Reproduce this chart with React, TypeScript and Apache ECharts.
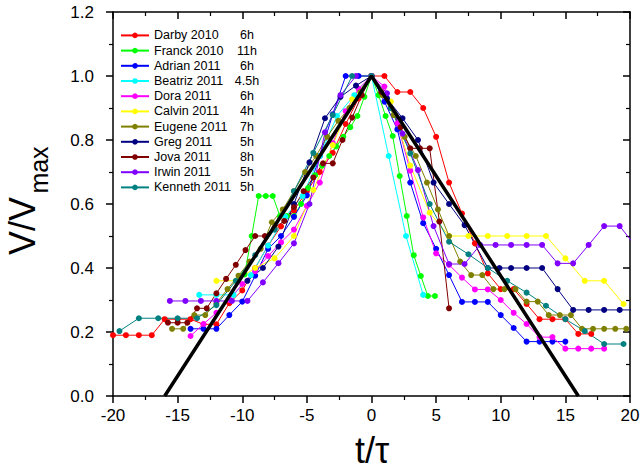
import React, { useEffect, useRef } from 'react';
import * as echarts from 'echarts';

const stormNames = ['Darby 2010', 'Franck 2010', 'Adrian 2011', 'Beatriz 2011', 'Dora 2011', 'Calvin 2011', 'Eugene 2011', 'Greg 2011', 'Jova 2011', 'Irwin 2011', 'Kenneth 2011'];
const stormHours = ['6h', '11h', '6h', '4.5h', '6h', '4h', '7h', '5h', '8h', '5h', '5h'];
const stormColors = ['#ff0000', '#00ff00', '#0000ff', '#00ffff', '#ff00ff', '#ffff00', '#808000', '#000080', '#800000', '#8000ff', '#008080'];

const darby: number[][] = [[-20,0.19],[-19,0.19],[-18,0.19],[-17,0.19],[-16,0.24],[-15,0.24],[-14,0.24],[-13,0.224],[-12,0.224],[-11,0.29],[-10,0.33],[-9,0.40],[-8,0.47],[-7,0.53],[-6,0.58],[-5,0.64],[-4,0.70],[-3,0.76],[-2,0.85],[-1,0.93],[0,1.0],[1,1.0],[2,0.95],[3,0.95],[4,0.90],[5,0.81],[6,0.667],[7,0.57],[8,0.477],[9,0.383],[10,0.334],[11,0.334],[12,0.2875],[13,0.24],[14,0.24],[15,0.24],[16,0.194],[17,0.194]];
const franck: number[][] = [[-9.82,0.38],[-9.27,0.50],[-8.73,0.625],[-8.18,0.625],[-7.64,0.625],[-7.09,0.5625],[-6.55,0.5625],[-6.0,0.5625],[-5.45,0.60],[-4.91,0.65],[-4.36,0.69],[-3.82,0.72],[-3.27,0.75],[-2.73,0.78],[-2.18,0.81],[-1.64,0.84],[-1.09,0.875],[-0.55,0.935],[0,1.0],[0.55,0.94],[1.09,0.875],[1.64,0.8125],[2.18,0.6875],[2.73,0.5625],[3.27,0.44],[3.82,0.375],[4.36,0.3125],[4.91,0.3125]];
const adrian: number[][] = [[-14,0.21],[-13,0.21],[-12,0.21],[-11,0.253],[-10,0.295],[-9,0.376],[-8,0.46],[-7,0.50],[-6,0.56],[-5,0.627],[-4,0.75],[-3,0.88],[-2,1.0],[-1,1.0],[0,1.0],[1,0.92],[2,0.833],[3,0.667],[4,0.54],[5,0.46],[6,0.378],[7,0.294],[8,0.294],[9,0.294],[10,0.253],[11,0.2125],[12,0.17],[13,0.17],[14,0.17],[15,0.17]];
const beatriz: number[][] = [[-13.33,0.316],[-12,0.316],[-10.67,0.316],[-9.33,0.378],[-8,0.47],[-6.67,0.56],[-5.33,0.625],[-4,0.75],[-2.67,0.875],[-1.33,0.94],[0,1.0],[1.33,0.75],[2.67,0.5],[4,0.316]];
const dora: number[][] = [[-14,0.1875],[-13,0.225],[-12,0.26],[-11,0.30],[-10,0.35],[-9,0.39],[-8,0.4375],[-7,0.48],[-6,0.52],[-5,0.594],[-4,0.667],[-3,0.79],[-2,0.89],[-1,0.96],[0,1.0],[1,0.967],[2,0.852],[3,0.704],[4,0.558],[5,0.446],[6,0.41],[7,0.37],[8,0.333],[9,0.333],[10,0.30],[11,0.26],[12,0.225],[13,0.184],[14,0.184],[15,0.148],[16,0.148],[17,0.148],[18,0.148]];
const calvin: number[][] = [[-12,0.36],[-10.5,0.36],[-9,0.40],[-7.5,0.43],[-6,0.50],[-4.5,0.644],[-3,0.784],[-1.5,0.927],[0,1.0],[1.5,0.92],[3,0.72],[4.5,0.573],[6,0.50],[7.5,0.50],[9,0.50],[10.5,0.50],[12,0.50],[13.5,0.50],[15,0.43],[16.5,0.36],[18,0.36],[19.5,0.2875]];
const eugene: number[][] = [[-15.43,0.21],[-14.57,0.21],[-13.71,0.253],[-12.86,0.253],[-12.0,0.29],[-11.14,0.334],[-10.29,0.376],[-9.43,0.42],[-8.57,0.46],[-7.71,0.543],[-6.86,0.583],[-6.0,0.64],[-5.14,0.70],[-4.29,0.75],[-3.43,0.81],[-2.57,0.86],[-1.71,0.90],[-0.86,0.95],[0,1.0],[0.86,0.94],[1.71,0.878],[2.57,0.81],[3.43,0.75],[4.29,0.667],[5.14,0.583],[6.0,0.50],[6.86,0.42],[7.71,0.378],[8.57,0.378],[9.43,0.334],[10.29,0.334],[11.14,0.334],[12.0,0.295],[12.86,0.295],[13.71,0.253],[14.57,0.253],[15.43,0.253],[16.29,0.21],[17.14,0.21],[18.0,0.21],[18.86,0.21],[19.71,0.21]];
const greg: number[][] = [[-9.6,0.36],[-8.4,0.40],[-7.2,0.467],[-6.0,0.60],[-4.8,0.73],[-3.6,0.868],[-2.4,0.935],[-1.2,0.97],[0,1.0],[1.2,0.93],[2.4,0.868],[3.6,0.80],[4.8,0.667],[6.0,0.60],[7.2,0.534],[9.0,0.40],[9.9,0.40],[10.8,0.40],[12.0,0.40],[13.2,0.40],[14.4,0.334],[15.6,0.269],[16.8,0.269],[18.0,0.269],[19.2,0.269],[20.4,0.269]];
const jova: number[][] = [[-15.75,0.229],[-15,0.229],[-14.25,0.229],[-13.5,0.274],[-12.75,0.274],[-12,0.321],[-11.25,0.366],[-10.5,0.41],[-9.75,0.456],[-9,0.50],[-8.25,0.50],[-7.5,0.526],[-6.75,0.547],[-6,0.59],[-5.25,0.64],[-4.5,0.683],[-3.75,0.727],[-3,0.727],[-2.25,0.80],[-1.5,0.87],[-0.75,0.94],[0,1.0],[0.75,0.95],[1.5,0.90],[2.25,0.84],[3.0,0.774],[3.75,0.774],[4.5,0.774],[5.25,0.545],[6.0,0.274]];
const irwin: number[][] = [[-15.6,0.297],[-14.4,0.297],[-13.2,0.297],[-12.0,0.297],[-10.8,0.297],[-9.6,0.297],[-8.4,0.355],[-7.2,0.415],[-6.0,0.477],[-4.8,0.60],[-3.6,0.824],[-2.4,0.94],[-1.2,1.0],[0,1.0],[1.2,0.946],[2.4,0.82],[3.6,0.706],[4.8,0.531],[6.0,0.4125],[7.2,0.4125],[8.4,0.472],[9.6,0.472],[10.8,0.472],[12.0,0.472],[13.2,0.472],[14.4,0.4145],[15.6,0.4145],[16.8,0.472],[18.0,0.531],[19.2,0.531],[20.4,0.47]];
const kenneth: number[][] = [[-19.5,0.203],[-18,0.243],[-16.5,0.243],[-15,0.243],[-13.5,0.243],[-12,0.284],[-10.5,0.36],[-9,0.44],[-7.5,0.52],[-6,0.64],[-4.5,0.76],[-3,0.878],[-1.5,1.0],[0,1.0],[1.5,0.90],[3,0.758],[4.5,0.60],[6,0.482],[7.5,0.443],[9,0.40],[10.5,0.36],[12,0.323],[13.5,0.282],[15,0.24],[16.5,0.203],[18,0.1625],[19.5,0.1625]];
const triangle: number[][] = [[-16,0],[0,1],[16,0]];

const stormData = [darby, franck, adrian, beatriz, dora, calvin, eugene, greg, jova, irwin, kenneth];

const FONT = 'Liberation Sans, Arial, sans-serif';

export default function App() {
  const ref = useRef<HTMLDivElement>(null);
  useEffect(() => {
    const chart = echarts.init(ref.current!, null, { renderer: 'svg' });
    const axisLine = { show: true, onZero: false, lineStyle: { color: '#000', width: 1.5 } };
    const series: any[] = stormData.map((d, i) => ({
      name: stormNames[i],
      type: 'line',
      data: d,
      symbol: 'circle',
      symbolSize: 6,
      showSymbol: true,
      lineStyle: { color: stormColors[i], width: 1 },
      itemStyle: { color: stormColors[i] },
    }));
    series.push({
      name: 'model',
      type: 'line',
      data: triangle,
      showSymbol: false,
      symbol: 'none',
      lineStyle: { color: '#000', width: 3.5 },
      z: 10,
      silent: true,
    });
    chart.setOption({
      animation: false,
      backgroundColor: '#fff',
      grid: { left: 113, right: 13, top: 12, bottom: 80, containLabel: false },
      legend: {
        data: stormNames,
        orient: 'vertical',
        left: 115,
        top: 23,
        itemWidth: 28,
        itemHeight: 7,
        itemGap: 0.4,
        textStyle: {
          fontFamily: FONT,
          fontSize: 12.5,
          lineHeight: 14.8,
          color: '#000',
          rich: {
            a: { fontFamily: FONT, fontSize: 12.5, lineHeight: 14.8, width: 80, color: '#000' },
            b: { fontFamily: FONT, fontSize: 12.5, lineHeight: 14.8, width: 26, align: 'center', color: '#000' },
          },
        },
        formatter: (name: string) => {
          const i = stormNames.indexOf(name);
          return `{a|${name}}{b|${stormHours[i]}}`;
        },
      },
      xAxis: [
        {
          type: 'value', min: -20, max: 20, interval: 5, position: 'bottom',
          axisLine,
          axisTick: { show: true, inside: false, length: 7, lineStyle: { color: '#000', width: 1.5 } },
          minorTick: { show: true, splitNumber: 2, length: 4, lineStyle: { color: '#000', width: 1.2 } },
          axisLabel: { color: '#000', fontSize: 17, fontFamily: FONT, margin: 11 },
          splitLine: { show: false },
        },
        {
          type: 'value', min: -20, max: 20, interval: 5, position: 'top',
          axisLine,
          axisTick: { show: true, inside: true, length: 7, lineStyle: { color: '#000', width: 1.5 } },
          minorTick: { show: true, splitNumber: 2, length: 4, lineStyle: { color: '#000', width: 1.2 } },
          axisLabel: { show: false },
          splitLine: { show: false },
        },
      ],
      yAxis: [
        {
          type: 'value', min: 0, max: 1.2, interval: 0.2, position: 'left',
          axisLine,
          axisTick: { show: true, inside: false, length: 7, lineStyle: { color: '#000', width: 1.5 } },
          minorTick: { show: true, splitNumber: 2, length: 4, lineStyle: { color: '#000', width: 1.2 } },
          axisLabel: { color: '#000', fontSize: 17, fontFamily: FONT, margin: 19, formatter: (v: number) => v.toFixed(1) },
          splitLine: { show: false },
        },
        {
          type: 'value', min: 0, max: 1.2, interval: 0.2, position: 'right',
          axisLine,
          axisTick: { show: true, inside: true, length: 7, lineStyle: { color: '#000', width: 1.5 } },
          minorTick: { show: true, splitNumber: 2, length: 4, lineStyle: { color: '#000', width: 1.2 } },
          axisLabel: { show: false },
          splitLine: { show: false },
        },
      ],
      graphic: [
        {
          type: 'text', x: 372, y: 450,
          style: { text: 't/τ', font: `36px ${FONT}`, fill: '#000', align: 'center', verticalAlign: 'middle' },
        },
        {
          type: 'text', x: 22, y: 226, rotation: Math.PI / 2,
          style: { text: 'V/V', font: `36px ${FONT}`, fill: '#000', align: 'center', verticalAlign: 'middle' },
        },
        {
          type: 'text', x: 39, y: 170, rotation: Math.PI / 2,
          style: { text: 'max', font: `25px ${FONT}`, fill: '#000', align: 'center', verticalAlign: 'middle' },
        },
      ],
      series,
    });
    return () => chart.dispose();
  }, []);
  return <div ref={ref} style={{ position: 'fixed', left: 0, top: 0, width: 643, height: 476 }} />;
}
